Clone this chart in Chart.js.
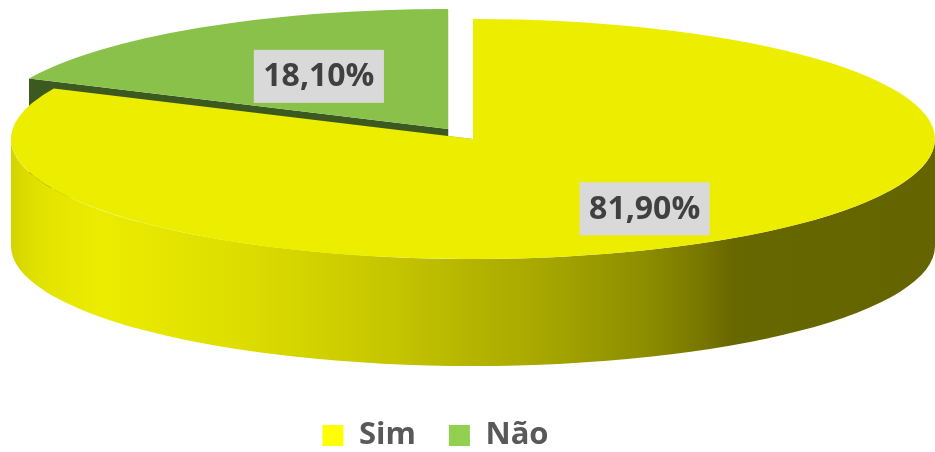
<!DOCTYPE html>
<html><head><meta charset="utf-8">
<script src="https://cdn.jsdelivr.net/npm/chart.js@4/dist/chart.umd.min.js"></script>
<style>html,body{margin:0;padding:0;background:#fff;} #wrap{width:935px;height:452px;position:relative;}</style>
</head><body><div id="wrap"><canvas id="c"></canvas></div>
<script>
// ---- data ----
const categories = ['Sim', 'Não'];
const values = [81.9, 18.1];
const valueLabels = ['81,90%', '18,10%'];

// ---- styles ----
const topColors = ['#EDED00', '#89C14A'];
const cutColors = ['#9A9A00', '#3C5A1F'];
const legendColors = ['#FFFF00', '#92D050'];
const GEO = {cx: 473, cy: 139, rx: 462, ry: 120, depth: 107};
const EXPLODE = [0, 46];          // explosion distance (horizontal px)
const LABEL_R = [0.69, 0.52];     // radial position of value labels
const LABEL_FONT = 'bold 32px "Open Sans"';

function sideGradient(ctx) {
  const g = ctx.createLinearGradient(GEO.cx - GEO.rx, 0, GEO.cx + GEO.rx, 0);
  const stops = [[0, '#d4d400'], [0.03, '#e2e200'], [0.095, '#ecec00'], [0.26, '#dcdc00'],
    [0.42, '#c4c400'], [0.5, '#b4b400'], [0.58, '#a6a600'], [0.69, '#8c8c00'],
    [0.745, '#787800'], [0.78, '#686800'], [1, '#646400']];
  stops.forEach(s => g.addColorStop(s[0], s[1]));
  return g;
}

function explodeOffset(i, arc) {
  const mid = (arc.startAngle + arc.endAngle) / 2;
  const e = EXPLODE[i] || 0;
  return {x: Math.cos(mid) * e, y: Math.sin(mid) * e * GEO.ry / GEO.rx};
}

const pie3d = {
  id: 'pie3d',
  beforeDatasetsDraw(chart) {
    const ctx = chart.ctx;
    const arcs = chart.getDatasetMeta(0).data;
    const {cx, cy, rx, ry, depth} = GEO;
    ctx.save();
    // 1. cut faces
    arcs.forEach((arc, i) => {
      const o = explodeOffset(i, arc);
      const faces = [];
      if (Math.cos(arc.startAngle) < -1e-6) faces.push(arc.startAngle);
      if (Math.cos(arc.endAngle) < -1e-6) faces.push(arc.endAngle);
      faces.forEach(a => {
        const x0 = cx + o.x, y0 = cy + o.y;
        const x1 = x0 + rx * Math.cos(a), y1 = y0 + ry * Math.sin(a);
        ctx.beginPath();
        ctx.moveTo(x0, y0); ctx.lineTo(x1, y1);
        ctx.lineTo(x1, y1 + depth); ctx.lineTo(x0, y0 + depth);
        ctx.closePath();
        ctx.fillStyle = cutColors[i];
        ctx.fill();
      });
    });
    // 2. curved front sides
    arcs.forEach((arc, i) => {
      const o = explodeOffset(i, arc);
      for (let k = -1; k <= 1; k++) {
        const lo = k * 2 * Math.PI, hi = lo + Math.PI;
        const s = Math.max(arc.startAngle, lo), e = Math.min(arc.endAngle, hi);
        if (e - s <= 1e-6) continue;
        ctx.beginPath();
        ctx.ellipse(cx + o.x, cy + o.y, rx, ry, 0, s, e, false);
        ctx.ellipse(cx + o.x, cy + o.y + depth, rx, ry, 0, e, s, true);
        ctx.closePath();
        ctx.fillStyle = sideGradient(ctx);
        ctx.fill();
      }
    });
    // 3. top faces drawn by the library's arc elements, projected to ellipse
    arcs.forEach((arc, i) => {
      const o = explodeOffset(i, arc);
      const R = arc.outerRadius;
      ctx.save();
      ctx.translate(cx + o.x, cy + o.y);
      ctx.scale(rx / R, ry / R);
      ctx.translate(-arc.x, -arc.y);
      arc.draw(ctx);
      ctx.restore();
    });
    // 4. value labels
    ctx.font = LABEL_FONT;
    ctx.textAlign = 'center';
    ctx.textBaseline = 'middle';
    arcs.forEach((arc, i) => {
      const o = explodeOffset(i, arc);
      const mid = (arc.startAngle + arc.endAngle) / 2;
      const x = cx + o.x + rx * LABEL_R[i] * Math.cos(mid);
      const y = cy + o.y + ry * LABEL_R[i] * Math.sin(mid);
      const w = ctx.measureText(valueLabels[i]).width + 19;
      const h = 53;
      ctx.fillStyle = '#D9D9D9';
      ctx.fillRect(x - w / 2, y - h / 2, w, h);
      ctx.fillStyle = '#404040';
      ctx.fillText(valueLabels[i], x, y + 1);
    });
    ctx.restore();
    return false;
  }
};

new Chart(document.getElementById('c'), {
  type: 'pie',
  data: {
    labels: categories,
    datasets: [{
      data: values,
      backgroundColor: topColors,
      borderWidth: 0,
      hoverOffset: 0,
      offset: 0
    }]
  },
  options: {
    responsive: true,
    maintainAspectRatio: false,
    animation: false,
    events: [],
    layout: {padding: {left: 0, right: 64, top: 0, bottom: -9}},
    plugins: {
      tooltip: {enabled: false},
      legend: {
        display: true,
        position: 'bottom',
        labels: {
          boxWidth: 21,
          boxHeight: 21,
          padding: 33,
          color: '#595959',
          font: {family: '"Open Sans"', size: 31, weight: 'bold'},
          generateLabels: () => categories.map((c, i) => ({
            text: c, fillStyle: legendColors[i], strokeStyle: legendColors[i],
            lineWidth: 0, hidden: false, index: i, fontColor: '#595959'
          }))
        }
      }
    }
  },
  plugins: [pie3d]
});
</script>
</body></html>
